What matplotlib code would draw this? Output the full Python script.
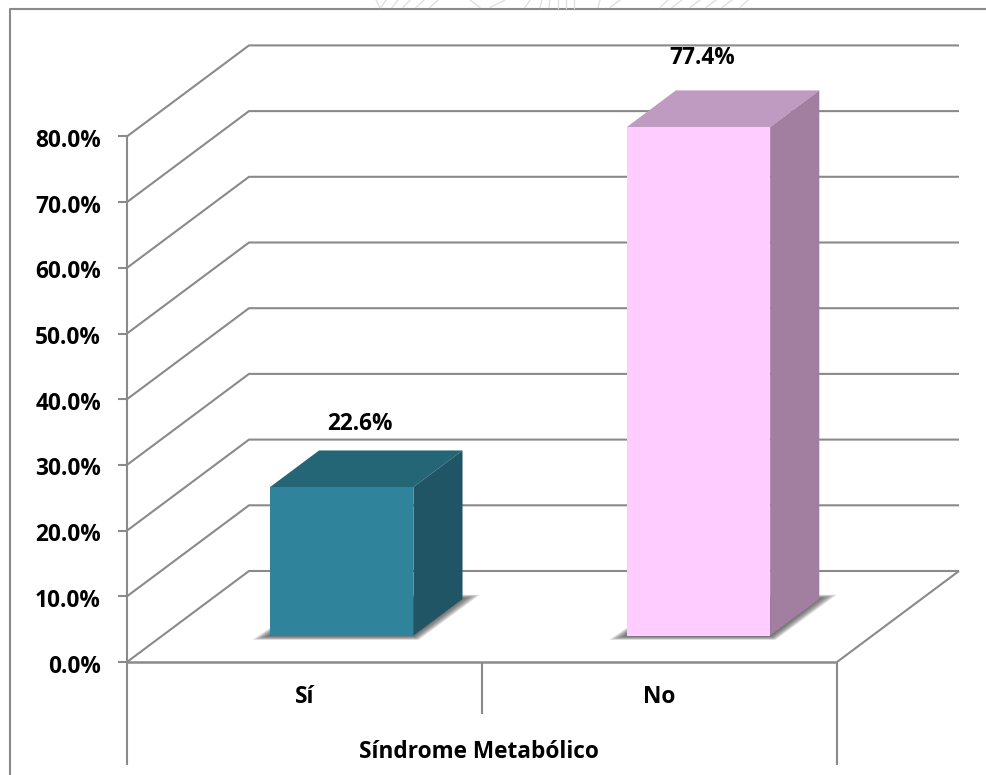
import matplotlib
matplotlib.use("Agg")
import matplotlib.pyplot as plt
from matplotlib.patches import Polygon

categories = ["Sí", "No"]
values = [22.6, 77.4]
value_labels = ["22.6%", "77.4%"]
y_ticks = [0, 10, 20, 30, 40, 50, 60, 70, 80]
y_labels = ["0.0%", "10.0%", "20.0%", "30.0%", "40.0%", "50.0%", "60.0%", "70.0%", "80.0%"]
axis_title = "Síndrome Metabólico"

W, H = 986, 775
LINE = "#8A8A8A"
FRONT = ["#2F839B", "#FFCCFF"]
TOP = ["#256676", "#BF9BC2"]
SIDE = ["#205565", "#A27EA1"]
FS = 16.3

# depth of the box in data units
DX = 122 / 355.0
DY = 91 / 65.7 * 10
BAR_W = 0.404
Z0, Z1 = 0.29, 0.693
BAR_SHIFT = [0.005, 0.010]

# hand placed value labels, shift in pixels from the bar's front centre / back top
LABEL_DX = [18, 4]
LABEL_DY = [26, 32]

plt.rcParams["font.family"] = ["Open Sans", "DejaVu Sans"]

def proj(x, y, z=0.0):
    return (x + z * DX, y + z * DY)

fig = plt.figure(figsize=(W / 100, H / 100), dpi=100)
ax = fig.add_axes([127 / W, 1 - 662 / H, 710 / W, 525.6 / H])
ax.set_xlim(0, 2)
ax.set_ylim(0, 80)
ax.axis("off")

def line(pts, lw=1.5, z=1):
    ax.plot([p[0] for p in pts], [p[1] for p in pts], color=LINE, lw=lw,
            clip_on=False, zorder=z, solid_capstyle="butt", solid_joinstyle="miter")

# gridlines on side and back walls
for v in y_ticks:
    line([proj(0, v, 0), proj(0, v, 1), proj(2, v, 1)])
    line([(-9 / 355, v), (0, v)])
line([proj(2, 0, 1), proj(2, 0, 0)])
line([(0, 0), (0, 80)])
line([(0, 0), (2, 0)], lw=1.8, z=2)

# category separators below the floor
line([(0, 0), (0, -15.7)])
line([(1, 0), (1, -7.9)])
line([(2, 0), (2, -15.7)])

# outer chart border
fig.add_artist(plt.Line2D([10 / W, 10 / W, 1], [0, 1 - 8.5 / H, 1 - 8.5 / H], color=LINE, lw=1.5))

# faint seal lines cut off by the top border
seal = [(376, 380), (386, 381), (398, 392), (410, 403), (424, 416), (438, 430), (470, 480), (505, 490),
        (530, 525), (542, 540), (550, 549), (558, 558), (566, 566), (574, 574), (600, 598), (620, 610),
        (668, 660), (682, 672), (700, 690), (716, 706), (732, 722), (748, 740)]
for top_x, bot_x in seal:
    fig.add_artist(plt.Line2D([top_x / W, bot_x / W], [1, 1 - 7.5 / H], color="#DDDDDD", lw=0.9))

for i, v in enumerate(values):
    x0 = i + 0.5 + BAR_SHIFT[i] - BAR_W / 2
    x1 = x0 + BAR_W
    # soft shadow on the floor, stacked from wide and pale to narrow
    n = 12
    for k in range(n):
        s = 1 - k / (n - 1.0)
        g = 0.05 * s
        d = 0.6 * s + 0.05
        ax.add_patch(Polygon([proj(x0 - g, -d, Z0), proj(x1 + g * 0.3, -d, Z0),
                              proj(x1 + g, d, Z1), proj(x0, d, Z1)],
                             closed=True, fc="#444444", ec="none", alpha=0.11, zorder=3, clip_on=False))
    ax.add_patch(Polygon([proj(x0, v, Z0), proj(x0, v, Z1), proj(x1, v, Z1), proj(x1, v, Z0)],
                         closed=True, fc=TOP[i], ec="none", zorder=4, clip_on=False))
    ax.add_patch(Polygon([proj(x1, 0, Z0), proj(x1, 0, Z1), proj(x1, v, Z1), proj(x1, v, Z0)],
                         closed=True, fc=SIDE[i], ec="none", zorder=4, clip_on=False))
    ax.add_patch(Polygon([proj(x0, 0, Z0), proj(x1, 0, Z0), proj(x1, v, Z0), proj(x0, v, Z0)],
                         closed=True, fc=FRONT[i], ec="none", zorder=5, clip_on=False))
    lx = proj((x0 + x1) / 2, v, Z0)[0] + LABEL_DX[i] / 355.0
    ly = proj(x0, v, Z1)[1] + LABEL_DY[i] / 6.57
    ax.text(lx, ly, value_labels[i], ha="center", va="center", fontsize=FS,
            fontweight="bold", clip_on=False, zorder=6)
    ax.text(i + 0.5, -5.3, categories[i], ha="center", va="center", fontsize=FS,
            fontweight="bold", clip_on=False)

for v, lab in zip(y_ticks, y_labels):
    ax.text(-26 / 355, v - 0.7, lab, ha="right", va="center", fontsize=FS, fontweight="bold", clip_on=False)

ax.text(1 - 3 / 355.0, -13.7, axis_title, ha="center", va="center", fontsize=FS, fontweight="bold", clip_on=False)

fig.savefig("out.png", dpi=100, facecolor="white")
